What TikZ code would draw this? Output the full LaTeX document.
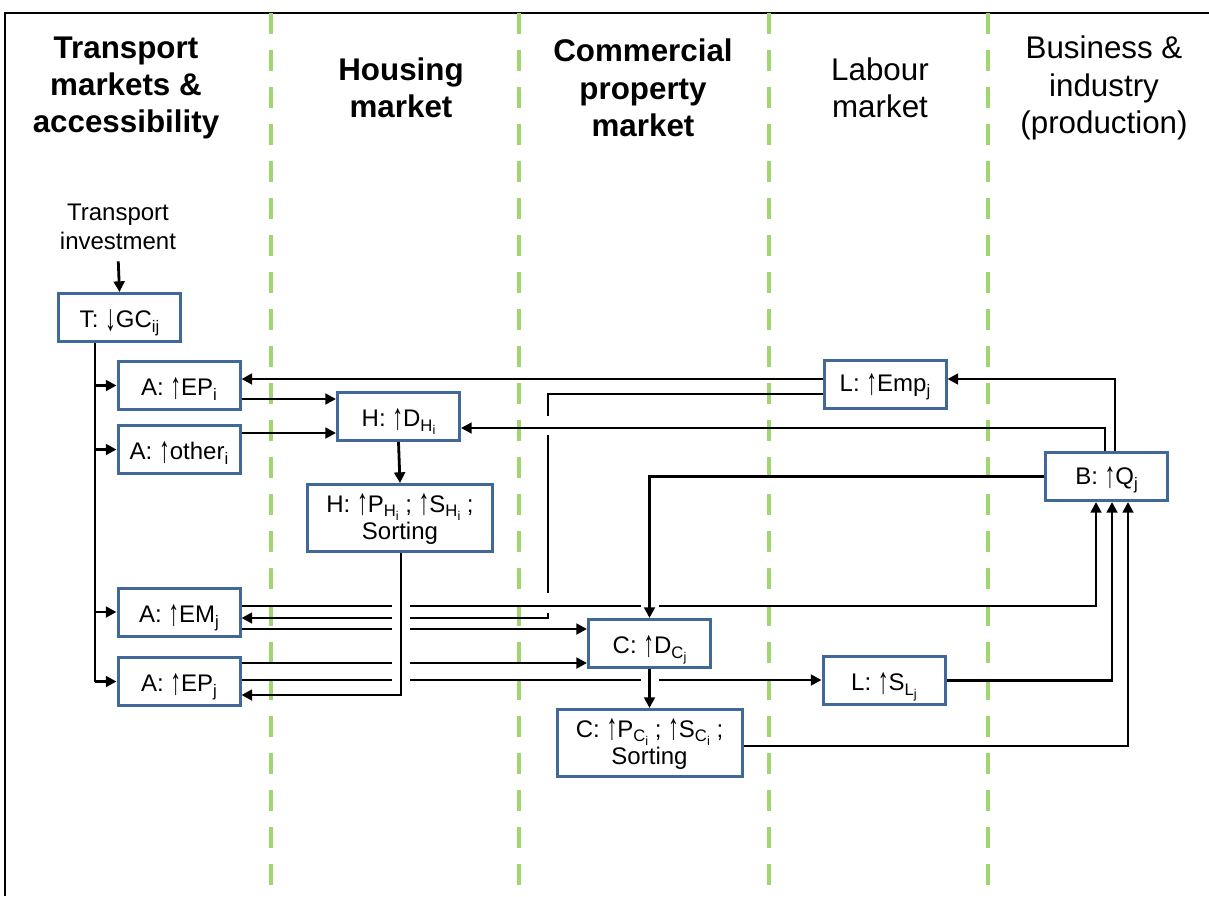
\documentclass[tikz,border=0pt]{standalone}
\usepackage{fontspec}
\usepackage{graphicx}
\setmainfont{Liberation Sans}
\usetikzlibrary{arrows.meta,calc}
\definecolor{boxblue}{RGB}{64,104,152}
\definecolor{divgreen}{RGB}{160,214,112}
\newcommand{\sbs}[1]{\raisebox{-3.5pt}[\height][0pt]{\fontsize{12.5}{12.5}\selectfont #1}}
\newcommand{\ssbs}[1]{\raisebox{-2.5pt}[\height][0pt]{\fontsize{9.5}{9.5}\selectfont #1}}
\newcommand{\up}{\raisebox{-2pt}[\height][0pt]{\scalebox{0.9}[1.55]{↑}}}
\newcommand{\down}{\raisebox{-2pt}[\height][0pt]{\scalebox{0.9}[1.55]{↓}}}
\tikzset{
  box/.style={draw=boxblue, line width=2.25pt, fill=white, minimum width=91.5pt,
    minimum height=36pt, inner sep=1pt, align=center,
    font=\fontsize{18}{20.5}\selectfont},
  widebox/.style={box, minimum width=138.75pt, minimum height=50.25pt},
  hdrb/.style={align=center, font=\fontsize{23.5}{28}\selectfont\bfseries},
  hdrr/.style={align=center, font=\fontsize{23.5}{28}\selectfont},
  conn/.style={line width=2.1pt, line join=miter},
  arr/.style={conn, -{Triangle[length=8pt,width=8pt]}},
  divider/.style={draw=divgreen, line width=3pt, dash pattern=on 15.75pt off 12pt},
  frame/.style={line width=1.5pt, draw=black}
}
\begin{document}
\begin{tikzpicture}[x=0.75pt,y=-0.75pt]
\useasboundingbox (0,0) rectangle (1209,896);
% frame
\draw[frame] (5,896) -- (5,13) -- (1209,13);
% dividers
\foreach \xx in {271,519,769,988} \draw[divider] (\xx,13) -- (\xx,896);
% headers
\node[hdrb] (h1) at (126,88) {Transport\\markets \&\\accessibility};
\node[hdrb] (h2) at (401,88) {Housing\\market};
\node[hdrb] (h3) at (643,88) {Commercial\\property\\market};
\node[hdrr] (h4) at (880,88) {Labour\\market};
\node[hdrr] (h5) at (1104,88) {Business \&\\industry\\(production)};
% coordinates
\coordinate (xT) at (95,0);
\coordinate (xV1) at (548,0);
\coordinate (ga) at (392,0);
\coordinate (gb) at (410,0);
\coordinate (gc) at (641,0);
\coordinate (gd) at (659,0);
\coordinate (xB1) at (1096,0);
\coordinate (xB2) at (1112,0);
\coordinate (xB3) at (1128,0);
\coordinate (xBo1) at (1105,0);
\coordinate (xBo2) at (1115,0);
\coordinate (xHP) at (401,0);
\foreach \yy in {379,394,399,416,428,433,435,475,593,606,613,618,629,663,680,695,746}
  \coordinate (r\yy) at (0,\yy);
% nodes
\node[align=center, font=\fontsize{18}{22}\selectfont] (ti) at (118,227) {Transport\\investment};
\node[box] (T) at (119.5,317.5) {T: \down GC\sbs{ij}};
\node[box] (Aei) at (179,385.5) {A: \up EP\sbs{i}};
\node[box] (Aoi) at (179,449.5) {A: \up other\sbs{i}};
\node[box] (Aemj) at (179,612) {A: \up EM\sbs{j}};
\node[box] (Aepj) at (179,681.5) {A: \up EP\sbs{j}};
\node[box] (HD) at (398.5,416.5) {H: \up D\sbs{H\ssbs{i}}};
\node[widebox] (HP) at (400,518) {H: \up P\sbs{H\ssbs{i}} ; \up S\sbs{H\ssbs{i}} ;\\Sorting};
\node[box] (LE) at (885,384) {L: \up Emp\sbs{j}};
\node[box] (B) at (1106.5,476.5) {B: \up Q\sbs{j}};
\node[box] (CD) at (649.5,643.5) {C: \up D\sbs{C\ssbs{j}}};
\node[widebox] (CP) at (649.5,743) {C: \up P\sbs{C\ssbs{i}} ; \up S\sbs{C\ssbs{i}} ;\\Sorting};
\node[box] (LS) at (884,680.5) {L: \up S\sbs{L\ssbs{j}}};
% connectors
\draw[arr, shorten <=5pt] (ti.south) -- (T.north);
\draw[conn] (T.south -| xT) -- (Aepj.west -| xT);
\draw[arr] (Aei.west -| xT) -- (Aei.west);
\draw[arr] (Aoi.west -| xT) -- (Aoi.west);
\draw[arr] (Aemj.west -| xT) -- (Aemj.west);
\draw[arr] (Aepj.west -| xT) -- (Aepj.west);
\draw[arr] (LE.west |- r379) -- (Aei.east |- r379);
\draw[arr] (Aei.east |- r399) -- (HD.west |- r399);
\draw[arr] (Aoi.east |- r433) -- (HD.west |- r433);
\draw[arr] (HD.south) -- (HP.north);
\draw[arr] (B.north -| xBo2) |- (LE.east |- r379);
\draw[arr] (B.north -| xBo1) |- (HD.east |- r428);
\draw[arr] (B.west) -| (CD.north);
% L:Emp to A:EMj with hops
\draw[conn] (LE.west |- r394) -| (xV1 |- r416);
\draw[conn] (xV1 |- r435) -- (xV1 |- r593);
\draw[conn] (xV1 |- r613) |- (gb |- r618);
\draw[arr] (ga |- r618) -- (Aemj.east |- r618);
% A:EMj to B
\draw[conn] (Aemj.east |- r606) -- (ga |- r606);
\draw[conn] (gb |- r606) -- (gc |- r606);
\draw[arr] (gd |- r606) -| (B.south -| xB1);
% A:EMj to C:D
\draw[conn] (Aemj.east |- r629) -- (ga |- r629);
\draw[arr] (gb |- r629) -- (CD.west |- r629);
% A:EPj to C:D
\draw[conn] (Aepj.east |- r663) -- (ga |- r663);
\draw[arr] (gb |- r663) -- (CD.west |- r663);
% A:EPj to L:S
\draw[conn] (Aepj.east |- r680) -- (ga |- r680);
\draw[conn] (gb |- r680) -- (gc |- r680);
\draw[arr] (gd |- r680) -- (LS.west |- r680);
% H:P to A:EPj
\draw[arr] (HP.south -| xHP) |- (Aepj.east |- r695);
% C chain
\draw[arr] (CD.south) -- (CP.north);
\draw[arr] (LS.east) -| (B.south -| xB2);
\draw[arr] (CP.east |- r746) -| (B.south -| xB3);
\end{tikzpicture}
\end{document}
